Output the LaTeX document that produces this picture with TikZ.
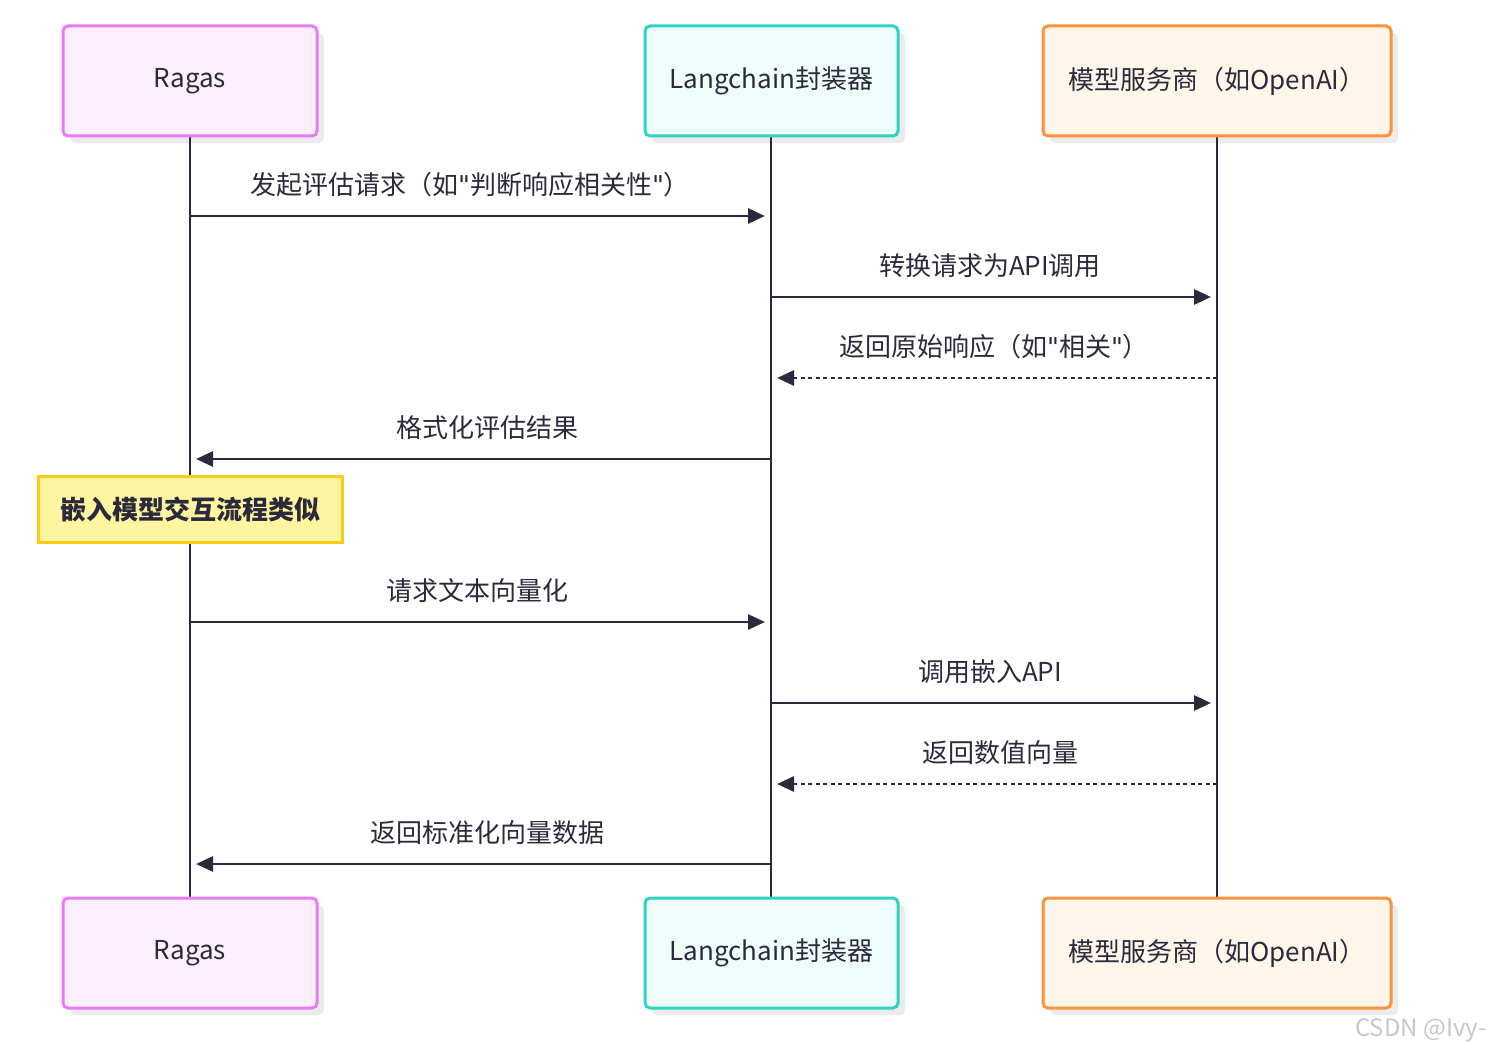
\documentclass[tikz,border=0pt]{standalone}
\usepackage{fontspec}
\setmainfont{Noto Sans CJK SC}
\newfontfamily\qf{DejaVu Sans}
\newcommand{\qq}{{\qf\symbol{34}}}
\usetikzlibrary{arrows.meta}
\definecolor{ln}{HTML}{2A2A3C}
\definecolor{rf}{HTML}{FDF0FE}\definecolor{rs}{HTML}{E879F9}
\definecolor{lf}{HTML}{EFFDFA}\definecolor{ls}{HTML}{2DD4BF}
\definecolor{mf}{HTML}{FFF6EA}\definecolor{ms}{HTML}{FB923C}
\definecolor{nf}{HTML}{FFF5A0}\definecolor{ns}{HTML}{FACC15}
\begin{document}
\begin{tikzpicture}[x=1pt,y=-1pt,
 actor/.style={draw=#1,line width=3pt,rounded corners=5pt,minimum height=110pt,inner sep=0pt,font=\fontsize{26}{30}\selectfont,text=ln},
 msg/.style={draw=ln,line width=2.8pt,-{Triangle[length=17pt,width=15pt]}},
 ret/.style={msg,dash pattern=on 4pt off 3.5pt},
 lab/.style={font=\fontsize{26}{30}\selectfont,text=ln},
 life/.style={draw=ln,line width=2.8pt}]
\useasboundingbox (0,0) rectangle (1494,1056);
% shadows
\foreach \a/\b/\y in {63/317/26,645/898/26,1043/1391/26,63/317/898,645/898/898,1043/1391/898}
  \fill[black!8,rounded corners=5pt] (\a+7,\y+7) rectangle (\b+7,\y+117);
% lifelines
\coordinate (r1) at (190,136);\coordinate (r2) at (190,898);
\coordinate (l1) at (771,136);\coordinate (l2) at (771,898);
\coordinate (m1) at (1217,136);\coordinate (m2) at (1217,898);
\draw[life] (r1)--(r2);\draw[life] (l1)--(l2);\draw[life] (m1)--(m2);
% boxes
\node[actor=rs,fill=rf,minimum width=254pt] (rt) at (190,81) {Ragas};
\node[actor=ls,fill=lf,minimum width=253pt] (lt) at (771.5,81) {Langchain封装器};
\node[actor=ms,fill=mf,minimum width=348pt] (mt) at (1217,81) {模型服务商（如OpenAI）};
\node[actor=rs,fill=rf,minimum width=254pt] (rb) at (190,953) {Ragas};
\node[actor=ls,fill=lf,minimum width=253pt] (lb) at (771.5,953) {Langchain封装器};
\node[actor=ms,fill=mf,minimum width=348pt] (mb) at (1217,953) {模型服务商（如OpenAI）};
% messages
\coordinate (a1) at (190,216);\coordinate (b1) at (765,216);
\coordinate (a2) at (771,297);\coordinate (b2) at (1211,297);
\coordinate (a3) at (1217,378);\coordinate (b3) at (777,378);
\coordinate (a4) at (771,459);\coordinate (b4) at (196,459);
\coordinate (a5) at (190,622);\coordinate (b5) at (765,622);
\coordinate (a6) at (771,703);\coordinate (b6) at (1211,703);
\coordinate (a7) at (1217,784);\coordinate (b7) at (777,784);
\coordinate (a8) at (771,864);\coordinate (b8) at (196,864);
\draw[msg] (a1)--(b1); \node[lab] (t1) at (470,185) {发起评估请求（如\qq 判断响应相关性\qq）};
\draw[msg] (a2)--(b2); \node[lab] (t2) at (990,266) {转换请求为API调用};
\draw[ret] (a3)--(b3); \node[lab] (t3) at (994,347) {返回原始响应（如\qq 相关\qq）};
\draw[msg] (a4)--(b4); \node[lab] (t4) at (487,428) {格式化评估结果};
\node[draw=ns,fill=nf,line width=3pt,minimum width=304pt,minimum height=66pt,inner sep=0pt,font=\fontsize{26}{30}\selectfont\bfseries,text=ln] (note) at (190,509) {嵌入模型交互流程类似};
\draw[msg] (a5)--(b5); \node[lab] (t5) at (477,591) {请求文本向量化};
\draw[msg] (a6)--(b6); \node[lab] (t6) at (990,672) {调用嵌入API};
\draw[ret] (a7)--(b7); \node[lab] (t7) at (1000,753) {返回数值向量};
\draw[msg] (a8)--(b8); \node[lab] (t8) at (487,833) {返回标准化向量数据};
\node[font=\fontsize{24}{28}\selectfont,text=black!22,anchor=east] (wm) at (1490,1030) {CSDN @Ivy-};
\end{tikzpicture}
\end{document}
